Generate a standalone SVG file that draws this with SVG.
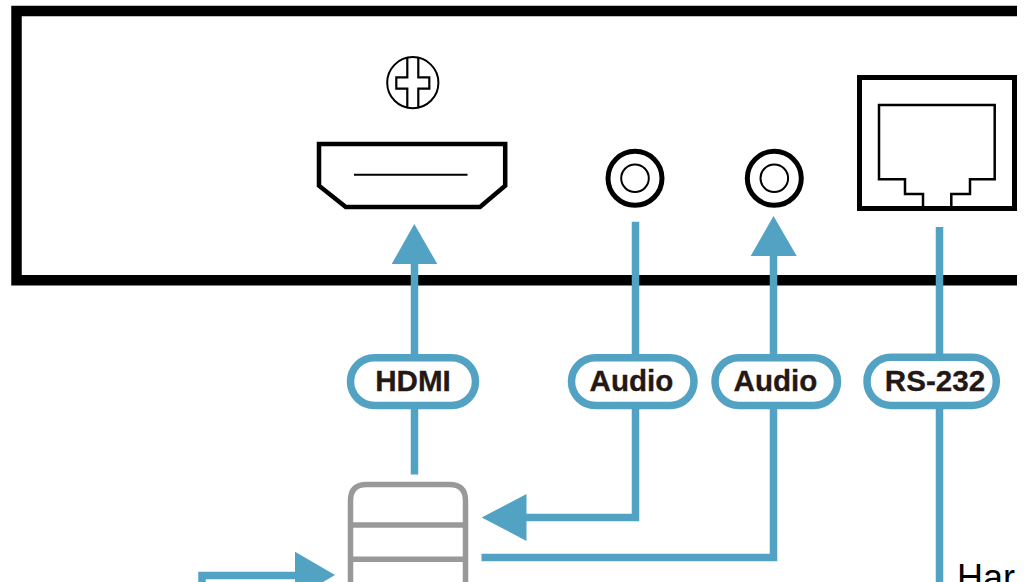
<svg xmlns="http://www.w3.org/2000/svg" width="1028" height="582" viewBox="0 0 1028 582">
<style>
.k{fill:none;stroke:#000;stroke-miterlimit:10}
.w{fill:#fff;stroke:#52a2c4;stroke-width:7.5}
.c{fill:none;stroke:#52a2c4;stroke-width:7.5}
.h{fill:#52a2c4;stroke:none}
.t{font-family:"Liberation Sans",Arial,sans-serif;font-weight:700;font-size:29.6px;fill:#231815;stroke:#231815;stroke-width:.3;text-anchor:middle}
.g{fill:none;stroke:#999;stroke-width:5.5}
</style>
<rect width="1028" height="582" fill="#fff"/>
<g id="panel"><path class="k" stroke-width="10.5" d="M1017 11H16.5V280.3H1017"/></g>
<g id="screw">
<circle class="k" stroke-width="2" cx="412.8" cy="82.7" r="25.6"/>
<path class="k" stroke-width="2.2" d="M407.3 57.6V77.3H396.3V88.7H407.3V107.8M418.3 107.8V88.7H429.3V77.3H418.3V57.6"/>
</g>
<g id="hdmi-port">
<path class="k" stroke-width="4.5" d="M319 144H505.2V185.7L480 207H345.8L319 185.7Z"/>
<path class="k" stroke-width="2" d="M354 174.7H467.5"/>
</g>
<g id="audio-port-1"><circle class="k" stroke-width="5" cx="635" cy="178.3" r="27"/><circle class="k" stroke-width="2" cx="635" cy="178.3" r="13.8"/></g>
<g id="audio-port-2"><circle class="k" stroke-width="5" cx="774.3" cy="178.3" r="27"/><circle class="k" stroke-width="2" cx="774.3" cy="178.3" r="13.8"/></g>
<g id="rs232-port">
<rect class="k" stroke-width="5" x="859.5" y="77.5" width="155" height="131"/>
<path class="k" stroke-width="2.5" d="M923 208V194H905V179.3H879V105H994.7V179.3H970V194H951.3V208"/>
</g>
<g id="device">
<path class="g" d="M350.5 590V500.5Q350.5 484.5 366.5 484.5H449.5Q465.5 484.5 465.5 500.5V590M350.5 525H465.5M350.5 559.3H465.5"/>
</g>
<g id="connectors">
<path class="c" d="M414.5 262V474.5"/>
<path class="h" d="M414.3 224L437.3 264H391.7Z"/>
<path class="c" d="M635.5 221.7V517.5H524"/>
<path class="h" d="M481.7 517.5L526.5 494V541Z"/>
<path class="c" d="M773.5 254V557.5H481.5"/>
<path class="h" d="M773.5 216L796.7 256H750.7Z"/>
<path class="c" d="M939.5 227V582"/>
<path class="c" d="M202 582V575.5H297"/>
<path class="h" d="M335 575L295 551.7V598.5Z"/>
</g>
<g id="label-hdmi"><rect class="w" x="350.5" y="357.7" width="125" height="47.8" rx="23.9"/><text class="t" x="413" y="391.3">HDMI</text></g>
<g id="label-audio-1"><rect class="w" x="571.5" y="357.7" width="122.5" height="47.8" rx="23.9"/><text class="t" x="631.5" y="391.3">Audio</text></g>
<g id="label-audio-2"><rect class="w" x="715" y="357.7" width="122.5" height="47.8" rx="23.9"/><text class="t" x="775.5" y="391.3">Audio</text></g>
<g id="label-rs232"><rect class="w" x="867" y="357.2" width="129.3" height="48.3" rx="24"/><text class="t" x="935" y="391.3">RS-232</text></g>
<text x="957" y="590" font-family="Liberation Sans, Arial, sans-serif" font-size="36" fill="#000">Har</text>
</svg>
